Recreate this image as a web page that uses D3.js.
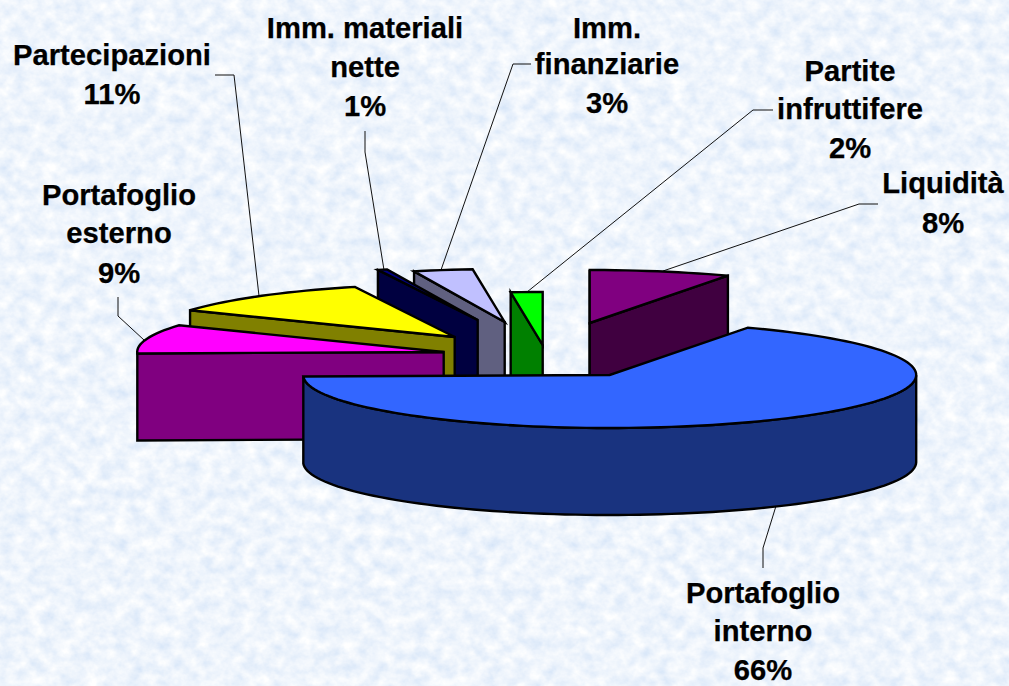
<!DOCTYPE html>
<html><head><meta charset="utf-8">
<style>html,body{margin:0;padding:0;background:#dcebfb;overflow:hidden}svg{display:block}
text{font-family:"Liberation Sans",Arial,sans-serif;font-weight:700;font-size:29.2px;fill:#000;stroke:#000;stroke-width:.25px;text-anchor:middle}</style>
<script src="https://cdn.jsdelivr.net/npm/d3@7/dist/d3.min.js"></script></head><body>
<script>
// Data (order follows the pie, counter-clockwise from the left end)
const categories = ["Portafoglio interno","Liquidità","Partite infruttifere","Imm. finanziarie","Imm. materiali nette","Partecipazioni","Portafoglio esterno"];
const values = [66,8,2,3,1,11,9];
const labelLines = [["Portafoglio","interno"],["Liquidità"],["Partite","infruttifere"],["Imm.","finanziarie"],["Imm. materiali","nette"],["Partecipazioni"],["Portafoglio","esterno"]];
const topColors = ["#3366FF","#800080","#00FF00","#C0C0FF","#000080","#FFFF00","#FF00FF"];
const wallColors = ["#19337F","#400040","#008000","#606080","#000040","#808000","#800080"];

// Layout
const W=1009,H=686;
const centre={x:609.7,y:375},rx=306.5,ry=53,depth=87;
const explode=[[0,0],[-20,-52],[-67,-30],[-105,-53],[-132,-55],[-155,-38],[-166,-23]]; // px shift of each slice
const paintOrder=[1,2,3,4,5,6,0];
const labelPos=[[763,[603,641,680]],[943,[193,233]],[850,[81,119,158]],[607,[38,74,113]],[365,[38,77,116]],[112,[65,104]],[119,[205,243,283]]];
const leaders=[[[763,568],[763,548],[776,506]],[[878,204],[859,204],[663,271]],[[773,110],[753,110],[527,292]],[[531,64],[513,64],[441,270]],[[365,131],[365,152],[384,270]],[[215,75],[234,75],[259,296]],[[118,297],[118,316],[144,340]]];

const svg=d3.select("body").append("svg").attr("width",W).attr("height",H);
const defs=svg.append("defs");
const f=defs.append("filter").attr("id","marble").attr("x",0).attr("y",0).attr("width","100%").attr("height","100%");
f.append("feTurbulence").attr("type","fractalNoise").attr("baseFrequency","0.07 0.08").attr("numOctaves",4).attr("seed",7);
f.append("feColorMatrix").attr("type","matrix").attr("values",
 "0.42 0 0 0 0.65  0.28 0 0 0 0.77  0.08 0 0 0 0.935  0 0 0 0 1");
svg.append("rect").attr("width",W).attr("height",H).attr("filter","url(#marble)");

// Pie angles (degrees swept from the left end), mapped to the apparent angles of the 3-D view
const deg=180/Math.PI;
const arcs=d3.pie().sort(null).value(d=>d)(values);
const warp=d3.scaleLinear()
  .domain([0,237.6,266.4,273.6,284.4,288,327.6,360])
  .range([181.6,423.2,450,456,467.2,469,509.7,541.6]);
const xS=d3.scaleLinear().domain([-1,1]).range([centre.x-rx,centre.x+rx]);
const yS=d3.scaleLinear().domain([-1,1]).range([centre.y+ry,centre.y-ry]);
const line=d3.line().curve(d3.curveLinearClosed);
const open=d3.line();
const pt=(t,ox,oy,dz=0)=>[xS(Math.cos(t/deg))+ox,yS(Math.sin(t/deg))+oy+dz];

const g=svg.append("g").attr("stroke","#000").attr("stroke-width",2.4).attr("stroke-linejoin","miter");

// leader lines lie under the pie
const lg=svg.insert("g","g").attr("fill","none").attr("stroke","#111").attr("stroke-width",1);
lg.selectAll("path").data(leaders).join("path").attr("d",d=>open(d));

paintOrder.forEach(i=>{
  const a=arcs[i];
  const t0=warp(a.startAngle*deg),t1=warp(a.endAngle*deg);
  const [ox,oy]=explode[i];
  const apex=[centre.x+ox,centre.y+oy],apexD=[apex[0],apex[1]+depth];
  const rim=d3.range(t0,t1,2).concat([t1]);
  const norm=t=>((t%360)+360)%360;
  // radial cut faces that look toward the viewer
  const faces=[];
  if(norm(t1)>=90&&norm(t1)<=183) faces.push(t1);
  if(norm(t0)<90) faces.push(t0);
  faces.forEach(t=>{
    const p=pt(t,ox,oy),q=pt(t,ox,oy,depth);
    g.append("path").attr("d",line([apex,p,q,apexD])).attr("fill",wallColors[i]);
  });
  // outer rim wall on the near half
  const near=rim.filter(t=>norm(t)>=180);
  if(near.length>1&&i===0){
    const up=near.map(t=>pt(t,ox,oy)),down=near.map(t=>pt(t,ox,oy,depth)).reverse();
    g.append("path").attr("d",line(up.concat(down))).attr("fill",wallColors[i]);
  }
  g.append("path").attr("d",line([apex].concat(rim.map(t=>pt(t,ox,oy))))).attr("fill",topColors[i]);
});

// labels
const fmt=d3.format(".0%");
const tg=svg.append("g");
categories.forEach((c,i)=>{
  const lines=labelLines[i].concat([fmt(values[i]/d3.sum(values))]);
  lines.forEach((s,k)=>tg.append("text").attr("x",labelPos[i][0]).attr("y",labelPos[i][1][k]).text(s));
});
</script></body></html>
